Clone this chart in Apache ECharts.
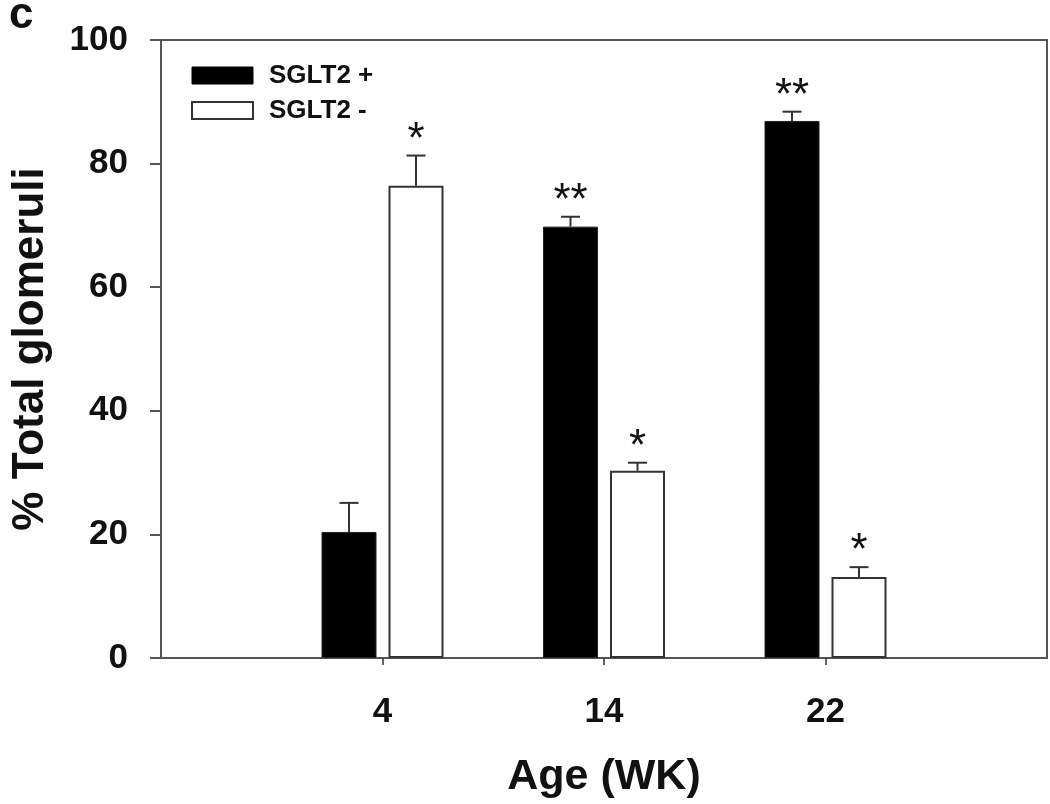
<!DOCTYPE html>
<html>
<head>
<meta charset="utf-8">
<script src="https://cdn.jsdelivr.net/npm/echarts@6/dist/echarts.min.js"></script>
<style>html,body{margin:0;padding:0;background:#fff}#c{width:1050px;height:804px}</style>
</head>
<body>
<div id="c"></div>
<script>
// ---- data ----
var categories = ['4', '14', '22'];
var plusMean  = [20.4, 69.8, 86.9];
var plusErr   = [4.7, 1.6, 1.5];
var minusMean = [76.4, 30.3, 13.1];
var minusErr  = [4.9, 1.3, 1.6];
var plusSig   = ['', '**', '**'];
var minusSig  = ['*', '*', '*'];
var yTicks = [0, 20, 40, 60, 80, 100];

// ---- build ----
var FONT = 'Arial, "Liberation Sans", sans-serif';
var axisCats = [''].concat(categories).concat(['']);
function pad(arr) { return ['-'].concat(arr).concat(['-']); }
var BAR_W = 55, GAP = 12;
var OFF = (BAR_W + GAP) / 2;

function errData(mean, err, sig) {
  return mean.map(function (m, i) { return [i + 1, m, err[i], sig[i]]; });
}
function errSeries(name, mean, err, sig, sign) {
  return {
    type: 'custom',
    name: name + ' err',
    z: 5,
    silent: true,
    data: errData(mean, err, sig),
    encode: { x: 0, y: 1 },
    renderItem: function (params, api) {
      var idx = api.value(0), m = api.value(1), e = api.value(2);
      var s = sig[params.dataIndex];
      var base = api.coord([idx, m]);
      var top = api.coord([idx, m + e]);
      var x = base[0] + sign * OFF;
      var children = [
        { type: 'line', shape: { x1: x, y1: base[1], x2: x, y2: top[1] },
          style: { stroke: '#333', lineWidth: 2 } },
        { type: 'line', shape: { x1: x - 9.5, y1: top[1], x2: x + 9.5, y2: top[1] },
          style: { stroke: '#333', lineWidth: 2 } }
      ];
      if (s) {
        children.push({ type: 'text', x: x, y: top[1] - 15,
          style: { text: s, fill: '#111', font: '44px ' + FONT, align: 'center', verticalAlign: 'middle' } });
      }
      return { type: 'group', children: children };
    }
  };
}

var chart = echarts.init(document.getElementById('c'), null, { renderer: 'canvas' });
chart.setOption({
  animation: false,
  backgroundColor: '#fff',
  textStyle: { fontFamily: FONT },
  grid: { left: 161, top: 40, right: 2, bottom: 146, show: true, borderColor: '#555', borderWidth: 2, backgroundColor: 'transparent' },
  legend: {
    orient: 'vertical', left: 191, top: 62.5, padding: 0, itemGap: 9,
    itemWidth: 61, itemHeight: 17, icon: 'rect',
    textStyle: { fontSize: 26, fontWeight: 'bold', color: '#111', lineHeight: 26, padding: [0, 0, 0, 11], fontFamily: FONT },
    data: [
      { name: 'SGLT2 +', itemStyle: { color: '#000', borderColor: '#000', borderWidth: 1 } },
      { name: 'SGLT2 -', itemStyle: { color: '#fff', borderColor: '#333', borderWidth: 2 } }
    ]
  },
  graphic: [
    { type: 'text', left: 9, top: -6, style: { text: 'c', font: 'bold 44px ' + FONT, fill: '#111' } }
  ],
  xAxis: {
    type: 'category', data: axisCats, boundaryGap: false,
    name: 'Age (WK)', nameLocation: 'middle', nameGap: 119,
    nameTextStyle: { fontSize: 43, fontWeight: 'bold', color: '#111', verticalAlign: 'middle', fontFamily: FONT },
    axisLine: { show: true, lineStyle: { color: '#555', width: 2 } },
    axisTick: { show: true, length: 7, lineStyle: { color: '#333', width: 1.5 },
      interval: function (i) { return i > 0 && i < axisCats.length - 1; } },
    axisLabel: { margin: 37, fontSize: 35, fontWeight: 'bold', color: '#111', fontFamily: FONT,
      interval: 0 },
    splitLine: { show: false }
  },
  yAxis: {
    type: 'value', min: yTicks[0], max: yTicks[yTicks.length - 1], interval: yTicks[1] - yTicks[0],
    name: '% Total glomeruli', nameLocation: 'middle', nameGap: 130, nameRotate: 90,
    nameTextStyle: { fontSize: 44, fontWeight: 'bold', color: '#111', verticalAlign: 'middle', fontFamily: FONT },
    axisLine: { show: true, lineStyle: { color: '#555', width: 2 } },
    axisTick: { show: true, inside: false, length: 11, lineStyle: { color: '#555', width: 2 } },
    axisLabel: { margin: 33, fontSize: 35, fontWeight: 'bold', color: '#111', fontFamily: FONT },
    splitLine: { show: false }
  },
  series: [
    { type: 'bar', name: 'SGLT2 +', data: pad(plusMean), barWidth: BAR_W, barGap: (GAP / BAR_W * 100) + '%',
      itemStyle: { color: '#000', borderColor: '#222', borderWidth: 1 } },
    { type: 'bar', name: 'SGLT2 -', data: pad(minusMean), barWidth: BAR_W,
      itemStyle: { color: '#fff', borderColor: '#333', borderWidth: 2 } },
    errSeries('SGLT2 +', plusMean, plusErr, plusSig, -1),
    errSeries('SGLT2 -', minusMean, minusErr, minusSig, 1)
  ]
});
</script>
</body>
</html>
